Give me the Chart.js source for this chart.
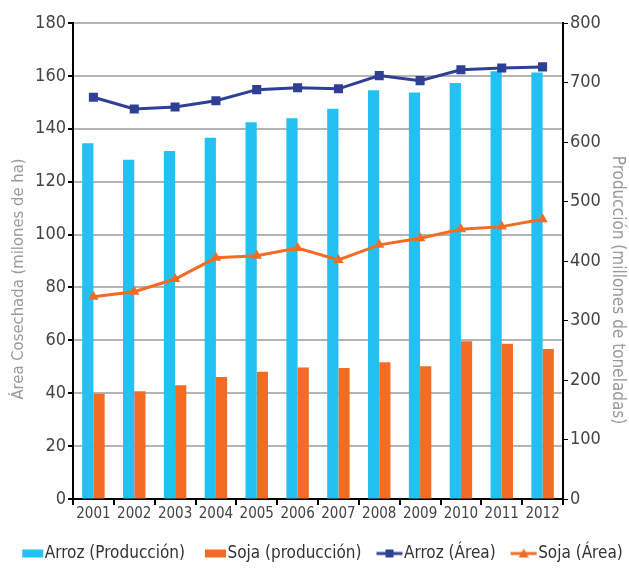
<!DOCTYPE html>
<html>
<head>
<meta charset="utf-8">
<script src="https://cdn.jsdelivr.net/npm/chart.js@4"></script>
<style>
  html, body { margin: 0; padding: 0; background: #fff; }
  #wrap { width: 629px; height: 568px; }
</style>
</head>
<body>
<div id="wrap"><canvas id="c" width="629" height="568"></canvas></div>
<script>
// Años de la serie
const years = ['2001','2002','2003','2004','2005','2006','2007','2008','2009','2010','2011','2012'];
// Producción (millones de toneladas) – eje derecho
const arrozProduccion = [598, 570, 585, 607, 633, 640, 656, 687, 683, 699, 719, 717];
const sojaProduccion  = [177, 181, 191, 205, 214, 221, 220, 230, 223, 265, 261, 252];
// Área cosechada (millones de ha) – eje izquierdo
const arrozArea = [151.9, 147.5, 148.2, 150.6, 154.8, 155.5, 155.1, 160.1, 158.2, 162.3, 163.0, 163.4];
const sojaArea  = [76.5, 78.4, 83.2, 91.2, 92.0, 94.9, 90.4, 96.1, 98.6, 102.0, 103.0, 105.8];

const CYAN = '#22c1f1';
const ORANGE = '#f26c23';
const NAVY = '#2f3f96';
const FONT = "'DejaVu Sans Condensed', 'Roboto', sans-serif";

// Legend swatches: transparent margin on the left, graphic on the right
const SW_W = 46, SW_H = 12;
function barSwatch(color) {
  const c = document.createElement('canvas');
  c.width = SW_W; c.height = SW_H;
  const g = c.getContext('2d');
  g.fillStyle = color; g.fillRect(SW_W - 22, 2, 21, 8);
  return c;
}
function lineSwatch(color, marker) {
  const c = document.createElement('canvas');
  c.width = SW_W; c.height = SW_H;
  const g = c.getContext('2d');
  const x0 = SW_W - 27, x1 = SW_W - 1, cx = (x0 + x1) / 2;
  g.strokeStyle = color; g.lineWidth = 3;
  g.beginPath(); g.moveTo(x0, 6); g.lineTo(x1, 6); g.stroke();
  g.fillStyle = color;
  if (marker === 'rect') {
    g.fillRect(cx - 4, 2, 8, 8);
  } else {
    g.beginPath(); g.moveTo(cx, 1); g.lineTo(cx + 5, 10); g.lineTo(cx - 5, 10); g.closePath(); g.fill();
  }
  return c;
}

const legendItems = [
  { text: 'Arroz (Producción)', style: barSwatch(CYAN), idx: 0 },
  { text: 'Soja (producción)', style: barSwatch(ORANGE), idx: 1 },
  { text: 'Arroz (Área)', style: lineSwatch(NAVY, 'rect'), idx: 2 },
  { text: 'Soja (Área)', style: lineSwatch(ORANGE, 'triangle'), idx: 3 }
];

const leftTitle = 'Área Cosechada (milones de ha)';
const rightTitle = 'Producción (millones de toneladas)';

// Rotated axis titles drawn beside the two value axes
const axisTitles = {
  id: 'axisTitles',
  afterDraw(chart) {
    const ctx = chart.ctx;
    const area = chart.chartArea;
    const midY = (area.top + area.bottom) / 2;
    ctx.save();
    ctx.fillStyle = '#9a9a9a';
    ctx.textAlign = 'center';
    ctx.textBaseline = 'middle';
    ctx.font = '16.5px ' + FONT;
    ctx.translate(19, midY + 18);
    ctx.rotate(-Math.PI / 2);
    ctx.fillText(leftTitle, 0, 0);
    ctx.restore();
    ctx.save();
    ctx.fillStyle = '#9a9a9a';
    ctx.textAlign = 'center';
    ctx.textBaseline = 'middle';
    ctx.font = '17px ' + FONT;
    ctx.translate(617, midY + 29);
    ctx.rotate(Math.PI / 2);
    ctx.fillText(rightTitle, 0, 0);
    ctx.restore();
  }
};

new Chart(document.getElementById('c'), {
  data: {
    labels: years,
    datasets: [
      { type: 'bar', label: 'Arroz (Producción)', data: arrozProduccion, yAxisID: 'yProd',
        backgroundColor: CYAN, categoryPercentage: 0.55, barPercentage: 1.0, order: 2 },
      { type: 'bar', label: 'Soja (producción)', data: sojaProduccion, yAxisID: 'yProd',
        backgroundColor: ORANGE, categoryPercentage: 0.55, barPercentage: 1.0, order: 2 },
      { type: 'line', label: 'Arroz (Área)', data: arrozArea, yAxisID: 'yArea',
        borderColor: NAVY, backgroundColor: NAVY, borderWidth: 3, tension: 0,
        pointStyle: 'rect', pointRadius: 6.4, pointBorderWidth: 0, order: 0 },
      { type: 'line', label: 'Soja (Área)', data: sojaArea, yAxisID: 'yArea',
        borderColor: ORANGE, backgroundColor: ORANGE, borderWidth: 3, tension: 0,
        pointStyle: 'triangle', pointRadius: 6, pointBorderWidth: 0, order: 0 }
    ]
  },
  plugins: [axisTitles],
  options: {
    responsive: false,
    animation: false,
    layout: { padding: { top: 23, left: 0, right: 0, bottom: -4 } },
    plugins: {
      tooltip: { enabled: false },
      legend: {
        position: 'bottom',
        labels: {
          font: { family: FONT, size: 17 },
          color: '#333',
          usePointStyle: true,
          pointStyleWidth: 30,
          padding: 4,
          generateLabels: () => legendItems.map(it => ({
            text: it.text, pointStyle: it.style, datasetIndex: it.idx,
            fillStyle: 'transparent', strokeStyle: 'transparent', lineWidth: 0, fontColor: '#333'
          }))
        }
      }
    },
    scales: {
      x: {
        offset: true,
        border: { color: '#000', width: 2 },
        grid: { display: true, offset: true, drawOnChartArea: false, color: '#000', tickLength: 6, lineWidth: 2 },
        ticks: { font: { family: FONT, size: 15 }, color: '#444', padding: 0, maxRotation: 0 },
        afterFit: s => { s.height = 42; }
      },
      yArea: {
        position: 'left',
        min: 0, max: 180,
        ticks: { stepSize: 20, font: { family: FONT, size: 18 }, color: '#444', padding: 2 },
        border: { color: '#000', width: 2 },
        grid: { color: '#b4b4b4', lineWidth: 2, tickColor: '#000', tickLength: 5 },
        afterFit: s => { s.width = 73; }
      },
      yProd: {
        position: 'right',
        min: 0, max: 800,
        ticks: { stepSize: 100, font: { family: FONT, size: 18 }, color: '#444', padding: 2 },
        border: { color: '#000', width: 2 },
        grid: { drawOnChartArea: false, color: '#000', tickLength: 5 },
        afterFit: s => { s.width = 66; }
      }
    }
  }
});
</script>
</body>
</html>
